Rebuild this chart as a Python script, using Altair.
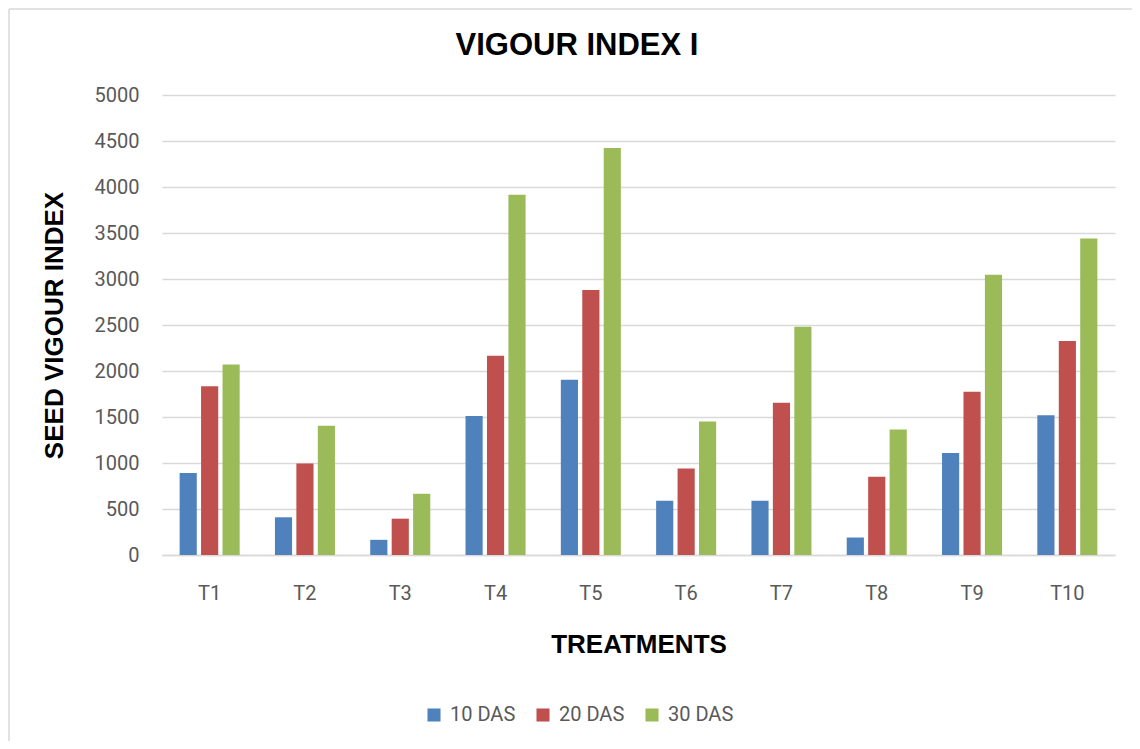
import altair as alt
import pandas as pd

treatments = ["T1", "T2", "T3", "T4", "T5", "T6", "T7", "T8", "T9", "T10"]
series = ["10 DAS", "20 DAS", "30 DAS"]
das10 = [890, 410, 165, 1510, 1905, 590, 590, 190, 1110, 1520]
das20 = [1835, 995, 395, 2165, 2880, 940, 1655, 850, 1775, 2325]
das30 = [2070, 1405, 665, 3915, 4425, 1450, 2480, 1365, 3045, 3440]
colors = ["#4F81BD", "#C0504D", "#9BBB59"]
y_ticks = list(range(0, 5001, 500))
chart_title = "VIGOUR INDEX I"

rows = []
for name, vals in zip(series, [das10, das20, das30]):
    for t, v in zip(treatments, vals):
        rows.append({"Treatment": t, "Series": name, "Value": v})
df = pd.DataFrame(rows)
one = pd.DataFrame({"label": [chart_title]})

W, H = 953, 460
LABEL_FONT = "Roboto"
BOLD_FONT = "Liberation Sans"

bars = alt.Chart(df).mark_bar().encode(
    x=alt.X(
        "Treatment:N",
        sort=treatments,
        scale=alt.Scale(paddingInner=0.37, paddingOuter=0.185),
        axis=alt.Axis(
            title="TREATMENTS",
            titleFont=BOLD_FONT,
            titleFontSize=26,
            titleFontWeight="bold",
            titleColor="#000000",
            titleBaseline="alphabetic",
            titleY=97,
            labelAngle=0,
            labelFont=LABEL_FONT,
            labelFontSize=20,
            labelColor="#595959",
            labelPadding=28,
            ticks=False,
            tickSize=0,
            domainColor="#d9d9d9",
            domainWidth=1.5,
            grid=False,
        ),
    ),
    xOffset=alt.XOffset("Series:N", sort=series, scale=alt.Scale(paddingInner=0.2)),
    y=alt.Y(
        "Value:Q",
        scale=alt.Scale(domain=[0, 5000], nice=False),
        axis=alt.Axis(
            title="SEED VIGOUR INDEX",
            titleFont=BOLD_FONT,
            titleFontSize=26,
            titleFontWeight="bold",
            titleColor="#000000",
            titleX=-108,
            titleY=H / 2,
            titleAlign="center",
            titleBaseline="middle",
            titleAngle=270,
            values=y_ticks,
            format="d",
            labelFont=LABEL_FONT,
            labelFontSize=20,
            labelColor="#595959",
            labelPadding=23,
            ticks=False,
            tickSize=0,
            domain=False,
            grid=True,
            gridColor="#d9d9d9",
            gridWidth=1.5,
        ),
    ),
    color=alt.Color(
        "Series:N",
        sort=series,
        scale=alt.Scale(domain=series, range=colors),
        legend=alt.Legend(
            title=None,
            orient="none",
            direction="horizontal",
            legendX=262,
            legendY=610,
            symbolType="square",
            symbolSize=170,
            symbolStrokeWidth=0,
            labelFont=LABEL_FONT,
            labelFontSize=20,
            labelColor="#595959",
            labelOffset=6,
            columnPadding=17,
        ),
    ),
)

title_text = alt.Chart(one).mark_text(
    font=BOLD_FONT,
    fontSize=31,
    fontWeight="bold",
    color="#000000",
    align="center",
    baseline="alphabetic",
).encode(x=alt.value(415), y=alt.value(-40), text="label:N")

border_top = alt.Chart(one).mark_rule(color="#d9d9d9", strokeWidth=1.5).encode(
    x=alt.value(-153), x2=alt.value(970), y=alt.value(-86)
)
border_left = alt.Chart(one).mark_rule(color="#d9d9d9", strokeWidth=1.5).encode(
    x=alt.value(-153), y=alt.value(-86), y2=alt.value(646)
)

chart = alt.layer(bars, title_text, border_top, border_left).properties(
    width=W,
    height=H,
    autosize=alt.AutoSizeParams(type="none"),
    padding={"left": 154, "top": 87, "right": 17, "bottom": 186},
    background="white",
).configure_view(stroke=None)

chart.save("out.html", embed_options={"renderer": "svg", "actions": False})
